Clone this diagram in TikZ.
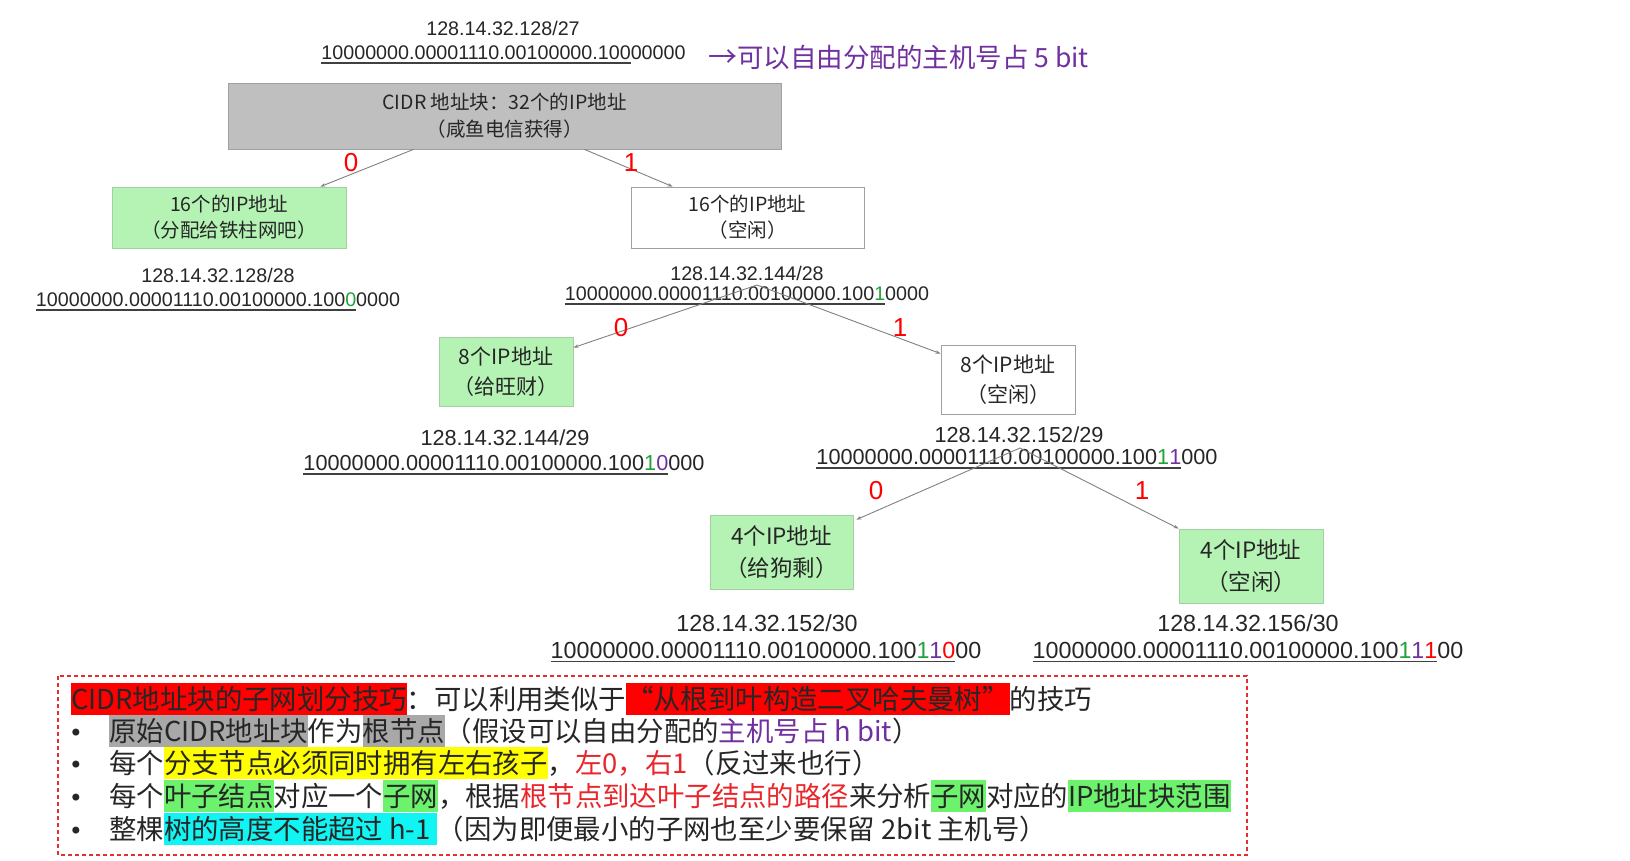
\documentclass[tikz,border=0pt]{standalone}
\usepackage{fontspec}
\setmainfont{Liberation Sans}
\newfontfamily\cjk{Noto Sans CJK SC}
\newfontfamily\djv{DejaVu Sans}
\usetikzlibrary{arrows.meta}
\definecolor{txt}{HTML}{262626}
\definecolor{rootgray}{HTML}{BFBFBF}
\definecolor{rootline}{HTML}{A0A0A0}
\definecolor{boxgreen}{HTML}{B5F3B5}
\definecolor{greenline}{HTML}{A3CFA3}
\definecolor{edgegray}{HTML}{808080}
\definecolor{cg}{HTML}{1FA33A}
\definecolor{purp}{HTML}{7030A0}
\definecolor{hred}{HTML}{FF0000}
\definecolor{hgray}{HTML}{A8A8A8}
\definecolor{hyellow}{HTML}{FFFF00}
\definecolor{hgreen}{HTML}{6CF26C}
\definecolor{hcyan}{HTML}{10F4F4}
\definecolor{tred}{HTML}{E8262B}
\definecolor{dashred}{HTML}{E03030}
\definecolor{ulc}{HTML}{404040}
\newsavebox\myulbox
\newcommand\myul[1]{\sbox\myulbox{#1}\rlap{\color{ulc}\rule[-4pt]{\wd\myulbox}{1.6pt}}\usebox\myulbox}
\newcommand\hlb[2]{{\setlength\fboxsep{0pt}\colorbox{#1}{\rule[-6pt]{0pt}{32pt}#2}}}
\begin{document}
\begin{tikzpicture}[x=1pt,y=-1pt,
  treebox/.style={draw=rootline, line width=0.8pt, text=txt, align=center, inner sep=0pt},
  gbox/.style={treebox, fill=boxgreen, draw=greenline},
  wbox/.style={treebox, fill=white},
  rootbox/.style={treebox, fill=rootgray},
  edgeline/.style={draw=edgegray, line width=0.9pt, -{Stealth[length=5pt,width=3.5pt]}},
  bitlab/.style={text=hred, inner sep=0pt, font=\fontsize{26}{26}\selectfont},
  iptext/.style={text=txt, inner sep=0pt},
  linetext/.style={anchor=base west, inner sep=0pt, text=txt, font=\cjk\fontsize{27.4}{32}\selectfont},
  bulletnode/.style={anchor=base, inner sep=0pt, text=txt, font=\djv\fontsize{24}{24}\selectfont}
]
\useasboundingbox (0,0) rectangle (1630,860);

% top
\node[iptext, font=\fontsize{19.7}{20}\selectfont] (ip27) at (503,28) {128.14.32.128/27};
\node[iptext, font=\fontsize{19.7}{20}\selectfont] (bits27) at (503.5,55) {\myul{10000000.00001110.00100000.100}00000};
\node[anchor=west, inner sep=0pt, text=purp, font=\cjk\fontsize{26.5}{26}\selectfont] (note) at (708,57) {{\fontsize{29}{29}\selectfont →}可以自由分配的主机号占 5 bit};

% tree boxes
\node[rootbox, minimum width=553pt, minimum height=66pt, font=\cjk\fontsize{19.5}{27}\selectfont] (root) at (504.5,116) {CIDR 地址块：32个的IP地址\\（咸鱼电信获得）};
\node[gbox, minimum width=234pt, minimum height=61pt, font=\cjk\fontsize{19.5}{26}\selectfont] (l1) at (229,217.5) {16个的IP地址\\（分配给铁柱网吧）};
\node[wbox, minimum width=233pt, minimum height=61pt, font=\cjk\fontsize{19.5}{26}\selectfont] (r1) at (747.5,217.5) {16个的IP地址\\（空闲）};
\node[gbox, minimum width=134pt, minimum height=69pt, font=\cjk\fontsize{21}{30}\selectfont] (l2) at (506,371.5) {8个IP地址\\（给旺财）};
\node[wbox, minimum width=134pt, minimum height=69pt, font=\cjk\fontsize{21}{30}\selectfont] (r2) at (1008,379.5) {8个IP地址\\（空闲）};
\node[gbox, minimum width=143pt, minimum height=74pt, font=\cjk\fontsize{22.5}{32}\selectfont] (l3) at (781.5,552) {4个IP地址\\（给狗剩）};
\node[gbox, minimum width=144pt, minimum height=74pt, font=\cjk\fontsize{22.5}{32}\selectfont] (r3) at (1251,566) {4个IP地址\\（空闲）};

% address labels
\node[iptext, font=\fontsize{19.7}{20}\selectfont] (ip28l) at (218,275) {128.14.32.128/28};
\node[iptext, font=\fontsize{19.7}{20}\selectfont] (bits28l) at (218,302) {\myul{10000000.00001110.00100000.100\textcolor{cg}{0}}0000};
\node[iptext, font=\fontsize{19.7}{20}\selectfont] (ip28r) at (747,273) {128.14.32.144/28};
\node[iptext, font=\fontsize{19.7}{20}\selectfont] (bits28r) at (747,296) {\myul{10000000.00001110.00100000.100\textcolor{cg}{1}}0000};
\node[iptext, font=\fontsize{21.7}{22}\selectfont] (ip29l) at (505,438) {128.14.32.144/29};
\node[iptext, font=\fontsize{21.7}{22}\selectfont] (bits29l) at (504,465) {\myul{10000000.00001110.00100000.100\textcolor{cg}{1}\textcolor{purp}{0}}000};
\node[iptext, font=\fontsize{21.7}{22}\selectfont] (ip29r) at (1019,435) {128.14.32.152/29};
\node[iptext, font=\fontsize{21.7}{22}\selectfont] (bits29r) at (1017,459) {\myul{10000000.00001110.00100000.100\textcolor{cg}{1}\textcolor{purp}{1}}000};
\node[iptext, font=\fontsize{23.3}{24}\selectfont] (ip30l) at (767,623) {128.14.32.152/30};
\node[iptext, font=\fontsize{23.3}{24}\selectfont] (bits30l) at (766,652) {\myul{10000000.00001110.00100000.100\textcolor{cg}{1}\textcolor{purp}{1}\textcolor{hred}{0}}00};
\node[iptext, font=\fontsize{23.3}{24}\selectfont] (ip30r) at (1248,623) {128.14.32.156/30};
\node[iptext, font=\fontsize{23.3}{24}\selectfont] (bits30r) at (1248,652) {\myul{10000000.00001110.00100000.100\textcolor{cg}{1}\textcolor{purp}{1}\textcolor{hred}{1}}00};

% connectors
\coordinate (a2) at (757,285);
\coordinate (a3) at (1020,448);
\draw[edgeline] ([xshift=-91pt]root.south) -- ([xshift=-26pt]l1.north east);
\draw[edgeline] ([xshift=80pt]root.south) -- ([xshift=42pt]r1.north west);
\draw[edgeline] (a2) -- ([yshift=-11pt]l2.north east);
\draw[edgeline] (a2) -- ([yshift=-9pt]r2.north west);
\draw[edgeline] (a3) -- ([yshift=-5pt,xshift=3pt]l3.north east);
\draw[edgeline] (a3) -- (r3.north west);

% 0/1 labels
\node[bitlab] (z1) at (351,163) {0};
\node[bitlab] (o1) at (631,163) {1};
\node[bitlab] (z2) at (621,328) {0};
\node[bitlab] (o2) at (900,328) {1};
\node[bitlab] (z3) at (876,491) {0};
\node[bitlab] (o3) at (1142,491) {1};

% bottom box
\draw[dashred, line width=1.4pt, dash pattern=on 4pt off 3pt] (58,676) rectangle (1247,855);
\node[linetext] (t1) at (71,709) {\hlb{hred}{CIDR地址块的子网划分技巧}：可以利用类似于\hlb{hred}{“从根到叶构造二叉哈夫曼树”}的技巧};
\node[bulletnode] (b2) at (76,741) {•};
\node[linetext] (t2) at (109,741) {\hlb{hgray}{原始CIDR地址块}作为\hlb{hgray}{根节点}（假设可以自由分配的\textcolor{purp}{主机号占 h bit}）};
\node[bulletnode] (b3) at (76,773) {•};
\node[linetext] (t3) at (109,773) {每个\hlb{hyellow}{分支节点必须同时拥有左右孩子}，\textcolor{tred}{左0，右1}（反过来也行）};
\node[bulletnode] (b4) at (76,806) {•};
\node[linetext] (t4) at (109,806) {每个\hlb{hgreen}{叶子结点}对应一个\hlb{hgreen}{子网}，根据\textcolor{tred}{根节点到达叶子结点的路径}来分析\hlb{hgreen}{子网}对应的\hlb{hgreen}{IP地址块范围}};
\node[bulletnode] (b5) at (76,839) {•};
\node[linetext] (t5) at (109,839) {整棵\hlb{hcyan}{树的高度不能超过 h-1 }（因为即便最小的子网也至少要保留 2bit 主机号）};
\end{tikzpicture}
\end{document}
